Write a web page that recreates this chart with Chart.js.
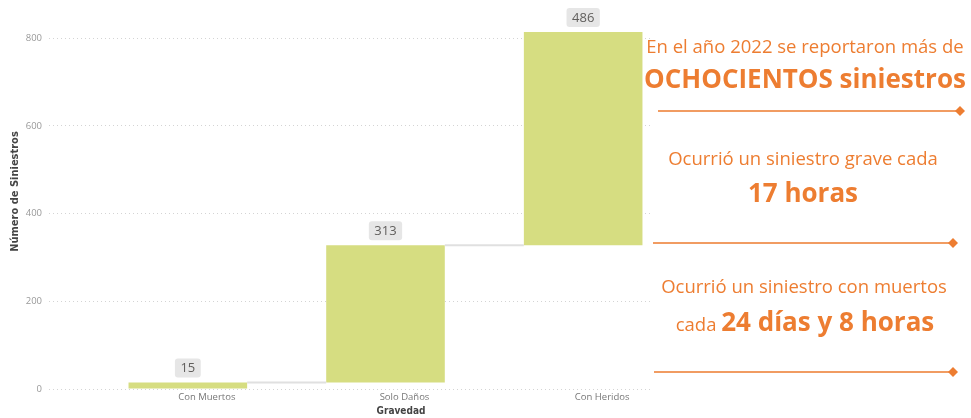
<!DOCTYPE html>
<html>
<head>
<meta charset="utf-8">
<script src="https://cdn.jsdelivr.net/npm/chart.js@4.4.1/dist/chart.umd.min.js"></script>
<style>
  html, body { margin: 0; padding: 0; background: #fff; }
  #wrap { position: relative; width: 971px; height: 418px; overflow: hidden; }
  #chart { position: absolute; left: 0; top: 0; }
  #notes { position: absolute; left: 0; top: 0; }
  #notes text { font-family: "Open Sans", sans-serif; fill: #ED7D31; }
  #notes .big { font-weight: 700; font-size: 26px; }
  #notes .small { font-size: 18.5px; }
</style>
</head>
<body>
<div id="wrap">
  <canvas id="chart" width="682" height="418"></canvas>
  <svg id="notes" width="971" height="418">
    <rect x="650" y="0" width="321" height="418" fill="#fff"/>
    <text class="small" x="805" y="53" text-anchor="middle">En el año 2022 se reportaron más de</text>
    <text class="big" x="805" y="87.5" text-anchor="middle">OCHOCIENTOS siniestros</text>
    <line x1="658" y1="111" x2="960" y2="111" stroke="#F19C62" stroke-width="2"/>
    <polygon points="960,106 965,111 960,116 955,111" fill="#ED7D31"/>

    <text class="small" x="803" y="165" text-anchor="middle">Ocurrió un siniestro grave cada</text>
    <text class="big" x="803" y="202" text-anchor="middle">17 horas</text>
    <line x1="653" y1="243" x2="953" y2="243" stroke="#F19C62" stroke-width="2"/>
    <polygon points="953,238 958,243 953,248 948,243" fill="#ED7D31"/>

    <text class="small" x="804" y="293" text-anchor="middle">Ocurrió un siniestro con muertos</text>
    <text x="805" y="330.5" text-anchor="middle"><tspan class="small">cada </tspan><tspan class="big">24 días y 8 horas</tspan></text>
    <line x1="654" y1="372" x2="953" y2="372" stroke="#F19C62" stroke-width="2"/>
    <polygon points="953,367 958,372 953,377 948,372" fill="#ED7D31"/>
  </svg>
</div>
<script>
const categories = ['Con Muertos', 'Solo Daños', 'Con Heridos'];
const values = [15, 313, 486];
const yTicks = [0, 200, 400, 600, 800];

// waterfall: each bar floats from the running total
let running = 0;
const ranges = values.map(v => {
    const r = [running, running + v];
    running += v;
    return r;
});

const waterfallExtras = {
    id: 'waterfallExtras',
    afterDatasetsDraw(chart) {
        const ctx = chart.ctx;
        const bars = chart.getDatasetMeta(0).data;
        const y = chart.scales.y;

        // connectors between bars
        ctx.save();
        ctx.strokeStyle = '#E0E0E0';
        ctx.lineWidth = 2;
        for (let i = 0; i < bars.length - 1; i++) {
            const a = bars[i], b = bars[i + 1];
            const py = y.getPixelForValue(ranges[i][1]);
            ctx.beginPath();
            ctx.moveTo(a.x + a.width / 2, py);
            ctx.lineTo(b.x - b.width / 2, py);
            ctx.stroke();
        }
        ctx.restore();

        // value labels in grey boxes
        ctx.save();
        ctx.font = '13px "Open Sans", sans-serif';
        ctx.textAlign = 'center';
        ctx.textBaseline = 'middle';
        bars.forEach((bar, i) => {
            const text = String(values[i]);
            const top = Math.min(bar.y, bar.base);
            const w = ctx.measureText(text).width + 11;
            const h = 19;
            const bx = bar.x - w / 2;
            const by = top - 5 - h;
            ctx.fillStyle = '#E6E6E6';
            ctx.beginPath();
            ctx.roundRect(bx, by, w, h, 3);
            ctx.fill();
            ctx.fillStyle = '#605E5C';
            ctx.fillText(text, bar.x, by + h / 2 + 0.5);
        });
        ctx.restore();
    },
    afterDraw(chart) {
        const ctx = chart.ctx;
        ctx.save();
        ctx.fillStyle = '#444';
        ctx.textAlign = 'center';
        ctx.textBaseline = 'middle';
        ctx.font = 'bold 10px "Liberation Sans Narrow", "DejaVu Sans Condensed", sans-serif';
        ctx.fillText('Gravedad', 401, 411);
        ctx.translate(15, 191.5);
        ctx.rotate(-Math.PI / 2);
        ctx.font = 'bold 11px "Liberation Sans Narrow", "DejaVu Sans Condensed", sans-serif';
        ctx.fillText('Número de Siniestros', 0, 0);
        ctx.restore();
    }
};

const ctx = document.getElementById('chart').getContext('2d');
new Chart(ctx, {
    type: 'bar',
    data: {
        labels: categories,
        datasets: [{
            label: 'Número de Siniestros',
            data: ranges,
            backgroundColor: '#D6DD81',
            borderSkipped: false,
            barPercentage: 0.6,
            categoryPercentage: 1.0
        }]
    },
    options: {
        responsive: false,
        animation: false,
        devicePixelRatio: 1,
        layout: { padding: { top: 3, right: 0, bottom: 0, left: 0 } },
        plugins: {
            legend: { display: false },
            tooltip: { enabled: false }
        },
        scales: {
            x: {
                grid: { display: false, drawTicks: false },
                border: { display: false },
                ticks: {
                    color: '#777',
                    font: { family: 'Open Sans', size: 9.5 },
                    padding: 3,
                    labelOffset: 19,
                    maxRotation: 0
                },
                afterFit(scale) {
                    scale.height = 29;
                    scale.paddingLeft = 0;
                    scale.paddingRight = 0;
                }
            },
            y: {
                min: 0,
                max: 880,
                afterBuildTicks(scale) {
                    scale.ticks = yTicks.map(v => ({ value: v }));
                },
                grid: {
                    color: '#D4D4D4',
                    lineWidth: 1,
                    drawTicks: true,
                    tickLength: 40,
                    tickColor: '#D4D4D4',
                    tickBorderDash: [1, 3],
                    borderDash: [1, 3]
                },
                border: { display: false, dash: [1, 3] },
                ticks: {
                    color: '#999',
                    font: { family: 'Open Sans', size: 9.5 },
                    padding: 7
                },
                afterFit(scale) {
                    scale.width = 89;
                    scale.paddingTop = 0;
                    scale.paddingBottom = 0;
                }
            }
        }
    },
    plugins: [waterfallExtras]
});
</script>
</body>
</html>
